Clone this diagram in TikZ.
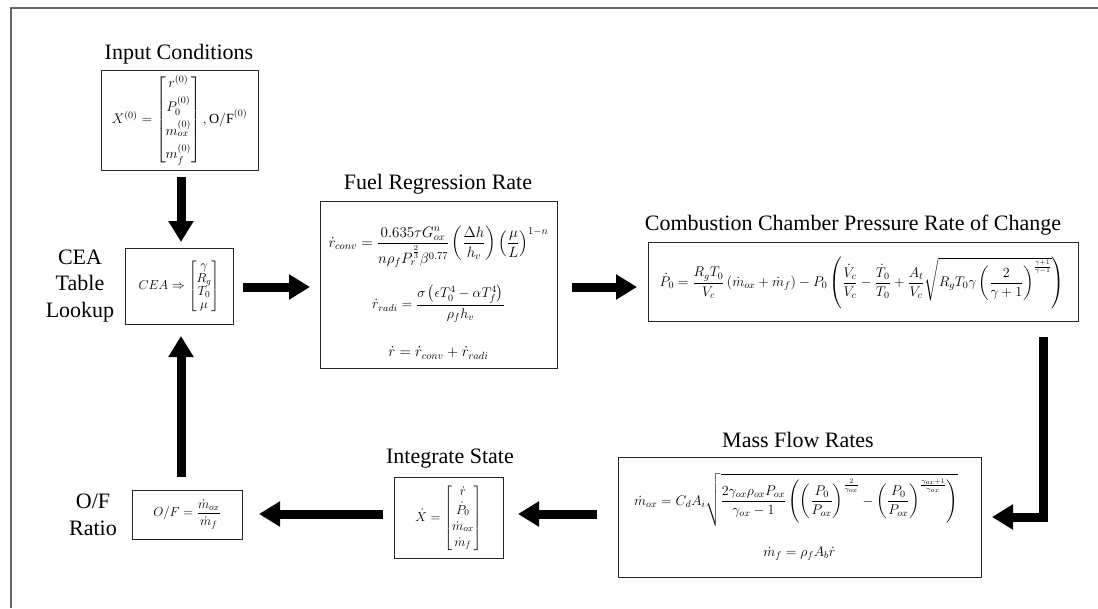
\RequirePackage{fix-cm}
\documentclass[tikz,border=0pt]{standalone}
\usepackage{amsmath}
\usepackage{fontspec}
\setmainfont{Liberation Serif}
\newfontfamily\titlefont{Liberation Serif}
\usetikzlibrary{arrows.meta}

\tikzset{
  frameline/.style={draw=black!60, line width=1.6pt},
  eqbox/.style={draw=black!85, line width=1pt, inner sep=0pt},
  title/.style={font=\titlefont\fontsize{22}{26.5}\selectfont, inner sep=0pt, align=center},
  eq/.style={inner sep=0pt, align=center},
  flow/.style={line width=9pt, -{Triangle[width=24pt,length=21pt]}, line join=miter},
}
\newcommand{\eqsize}[1]{\fontsize{#1}{#1}\selectfont}

\begin{document}
\begin{tikzpicture}[x=1pt,y=-1pt]
\useasboundingbox (0,0) rectangle (1098,608);
\fill[white] (0,0) rectangle (1098,608);

% outer frame (top and left edges)
\coordinate (f0) at (11,8);
\coordinate (f1) at (1098,8);
\coordinate (f2) at (11,608);
\draw[frameline] (f1) -- (f0) -- (f2);

% ---------- Input conditions ----------
\node[title] (tin) at (179,54) {Input Conditions};
\node[eqbox, minimum width=157pt, minimum height=100pt] (bin) at (179.5,120) {};
\node[eq] (ein) at (179.5,120) {\eqsize{14}$X^{(0)}=\begin{bmatrix} r^{(0)}\\[5pt] P_0^{(0)}\\[5pt] m_{ox}^{(0)}\\[5pt] m_f^{(0)}\end{bmatrix}, \mathrm{O/F}^{(0)}$};

% ---------- CEA lookup ----------
\node[title] (tcea) at (80,286) {CEA\\Table\\Lookup};
\node[eqbox, minimum width=108pt, minimum height=76pt] (bcea) at (179,286) {};
\node[eq] (ecea) at (179,286) {\eqsize{13}$CEA\Rightarrow\begin{bmatrix}\gamma\\ R_g\\ T_0\\ \mu\end{bmatrix}$};

% ---------- Fuel regression rate ----------
\node[title] (tfuel) at (438,184) {Fuel Regression Rate};
\node[eqbox, minimum width=237pt, minimum height=167pt] (bfuel) at (438.5,284.5) {};
\node[eq] (efa) at (438.5,247) {\eqsize{15}$\dot r_{conv}=\dfrac{0.635\tau G_{ox}^{n}}{n\rho_f P_r^{\frac{2}{3}}\beta^{0.77}}\left(\dfrac{\Delta h}{h_v}\right)\left(\dfrac{\mu}{L}\right)^{1-n}$};
\node[eq] (efb) at (438.5,304) {\eqsize{14}$\dot r_{radi}=\dfrac{\sigma\left(\epsilon T_0^4-\alpha T_f^4\right)}{\rho_f h_v}$};
\node[eq] (efc) at (438.5,353) {\eqsize{15}$\dot r=\dot r_{conv}+\dot r_{radi}$};

% ---------- Chamber pressure ----------
\node[title] (tcomb) at (853,225) {Combustion Chamber Pressure Rate of Change};
\node[eqbox, minimum width=430pt, minimum height=79pt] (bcomb) at (863,281.5) {};
\node[eq] (ecomb) at (862,283) {\eqsize{14}$\dot P_0=\dfrac{R_gT_0}{V_c}\left(\dot m_{ox}+\dot m_f\right)-P_0\left(\dfrac{\dot V_c}{V_c}-\dfrac{\dot T_0}{T_0}+\dfrac{A_t}{V_c}\sqrt{R_gT_0\gamma\left(\dfrac{2}{\gamma+1}\right)^{\frac{\gamma+1}{\gamma-1}}}\right)$};

% ---------- Mass flow rates ----------
\node[title] (tmass) at (798,440) {Mass Flow Rates};
\node[eqbox, minimum width=363pt, minimum height=120pt] (bmass) at (799.5,517) {};
\node[eq] (ema) at (796,500) {\eqsize{14}$\dot m_{ox}=C_dA_i\sqrt{\dfrac{2\gamma_{ox}\rho_{ox}P_{ox}}{\gamma_{ox}-1}\left(\left(\dfrac{P_0}{P_{ox}}\right)^{\frac{2}{\gamma_{ox}}}-\left(\dfrac{P_0}{P_{ox}}\right)^{\frac{\gamma_{ox}+1}{\gamma_{ox}}}\right)}$};
\node[eq] (emb) at (799.5,554) {\eqsize{14}$\dot m_f=\rho_fA_b\dot r$};

% ---------- Integrate state ----------
\node[title] (tint) at (450,459) {Integrate State};
\node[eqbox, minimum width=109pt, minimum height=81pt] (bint) at (448.5,517.5) {};
\node[eq] (eint) at (448.5,518) {\eqsize{13}$\dot X=\begin{bmatrix}\dot r\\[3pt] \dot P_0\\[3pt] \dot m_{ox}\\[3pt] \dot m_f\end{bmatrix}$};

% ---------- O/F ratio ----------
\node[title] (tof) at (93,515) {O/F\\Ratio};
\node[eqbox, minimum width=110pt, minimum height=49pt] (bof) at (187,514.5) {};
\node[eq] (eof) at (187,514.5) {\eqsize{13}$O/F=\dfrac{\dot m_{ox}}{\dot m_f}$};

% ---------- flow arrow end points ----------
\coordinate (a1s) at (181,177);  \coordinate (a1e) at (181,242);
\coordinate (a2s) at (243,287);  \coordinate (a2e) at (310,287);
\coordinate (a3s) at (572,287);  \coordinate (a3e) at (637,287);
\coordinate (a4s) at (1043,337); \coordinate (elbow) at (1043,517); \coordinate (a4e) at (992,517);
\coordinate (a5s) at (597,514);  \coordinate (a5e) at (518,514);
\coordinate (a6s) at (383,514);  \coordinate (a6e) at (259,514);
\coordinate (a7s) at (181,477);  \coordinate (a7e) at (181,336);

\draw[flow] (a1s) -- (a1e);
\draw[flow] (a2s) -- (a2e);
\draw[flow] (a3s) -- (a3e);
\draw[flow] (a4s) -- (elbow) -- (a4e);
\draw[flow] (a5s) -- (a5e);
\draw[flow] (a6s) -- (a6e);
\draw[flow] (a7s) -- (a7e);
\end{tikzpicture}
\end{document}
